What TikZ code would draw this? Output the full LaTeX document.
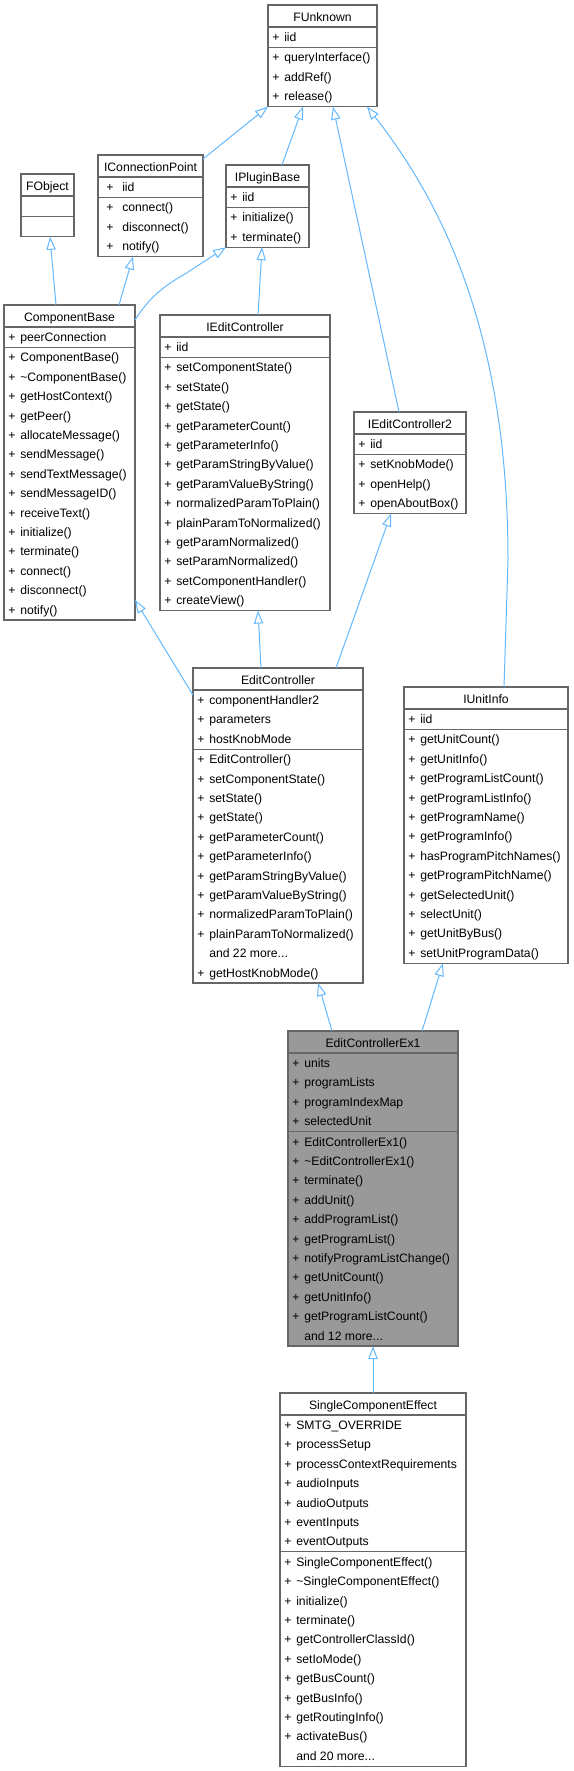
\documentclass[tikz,border=0pt]{standalone}
\usepackage{fontspec}
\setmainfont{Liberation Sans}
\usetikzlibrary{arrows.meta,calc,fit}

\definecolor{boxgray}{HTML}{666666}
\definecolor{edgeblue}{HTML}{63B8FF}
\definecolor{curfill}{HTML}{999999}

\newcommand{\rowh}{19.4}
\newcommand{\signx}{8}
\newcommand{\memx}{16}
\newcommand{\moredots}{...}

% \umlclass[extra]{name}{x}{y}{width}{#attrs}{#methods}{title}
\newcommand{\umlclass}[8][]{%
  \pgfmathsetmacro{\attrh}{#6*\rowh+1}%
  \pgfmathsetmacro{\boxh}{22+\attrh+#7*\rowh+1}%
  \coordinate (#2-nw) at (#3,#4);
  \coordinate (#2-se) at ($(#2-nw)+(#5,\boxh)$);
  \node[classbox,fit=(#2-nw)(#2-se),#1] (#2) {};
  \node[classtitle] (#2-title) at ($(#2-nw)+({#5/2},16.5)$) {#8};
  \draw[classline] ($(#2-nw)+(0,22)$) -- ++(#5,0);
  \draw[classline] ($(#2-nw)+(0,{22+\attrh})$) -- ++(#5,0);
}
% \umlrows{name}{tag}{section top}{sign/text list}
\newcommand{\umlrows}[4]{%
  \foreach \sg/\mb [count=\i] in {#4} {
    \node[memsign] (#1-#2s\i) at ($(#1-nw)+(\signx,{#3+\rowh*(\i-1)+14.5})$) {\sg};
    \node[member] (#1-#2\i) at ($(#1-nw)+(\memx,{#3+\rowh*(\i-1)+14.5})$) {\mb};
  }}

\begin{document}
\begin{tikzpicture}[x=0.75pt,y=0.75pt,yscale=-1,xscale=1,
  classbox/.style={draw=boxgray,line width=1pt,fill=white,inner sep=0pt,outer sep=0pt},
  classline/.style={draw=boxgray,line width=1pt},
  classtitle/.style={anchor=base,inner sep=0pt,font=\fontsize{9.15pt}{11pt}\selectfont},
  memsign/.style={anchor=base,inner sep=0pt,font=\fontsize{9.15pt}{11pt}\selectfont},
  member/.style={anchor=base west,inner sep=0pt,font=\fontsize{9.15pt}{11pt}\selectfont},
  inherit/.style={draw=edgeblue,line width=0.75pt,-{Triangle[open,length=9.75pt,width=7pt,fill=white]}}]
\useasboundingbox (0,0) rectangle (574,1771);

% classes
\umlclass{fu}{268}{5}{109}{1}{3}{FUnknown}
\umlrows{fu}{a}{22}{+/iid}
\umlrows{fu}{m}{22+1*\rowh+1}{+/queryInterface(), +/addRef(), +/release()}

\umlclass{icp}{98}{155}{105}{1}{3}{IConnectionPoint}
\begin{scope}
\renewcommand{\signx}{12}\renewcommand{\memx}{24}
\umlrows{icp}{a}{22}{+/iid}
\umlrows{icp}{m}{22+1*\rowh+1}{+/connect(), +/disconnect(), +/notify()}
\end{scope}

\umlclass{fo}{21}{174}{53}{1}{1}{FObject}

\umlclass{ipb}{226}{165}{83}{1}{2}{IPluginBase}
\umlrows{ipb}{a}{22}{+/iid}
\umlrows{ipb}{m}{22+1*\rowh+1}{+/initialize(), +/terminate()}

\umlclass{cb}{4}{305}{131}{1}{14}{ComponentBase}
\umlrows{cb}{a}{22}{+/peerConnection}
\umlrows{cb}{m}{22+1*\rowh+1}{+/ComponentBase(), +/\textasciitilde ComponentBase(),
  +/getHostContext(), +/getPeer(), +/allocateMessage(), +/sendMessage(),
  +/sendTextMessage(), +/sendMessageID(), +/receiveText(), +/initialize(),
  +/terminate(), +/connect(), +/disconnect(), +/notify()}

\umlclass{iec}{160}{315}{170}{1}{13}{IEditController}
\umlrows{iec}{a}{22}{+/iid}
\umlrows{iec}{m}{22+1*\rowh+1}{+/setComponentState(), +/setState(), +/getState(),
  +/getParameterCount(), +/getParameterInfo(), +/getParamStringByValue(),
  +/getParamValueByString(), +/normalizedParamToPlain(), +/plainParamToNormalized(),
  +/getParamNormalized(), +/setParamNormalized(), +/setComponentHandler(), +/createView()}

\umlclass{iec2}{354}{412}{112}{1}{3}{IEditController2}
\umlrows{iec2}{a}{22}{+/iid}
\umlrows{iec2}{m}{22+1*\rowh+1}{+/setKnobMode(), +/openHelp(), +/openAboutBox()}

\umlclass{ec}{193}{668}{170}{3}{12}{EditController}
\umlrows{ec}{a}{22}{+/componentHandler2, +/parameters, +/hostKnobMode}
\umlrows{ec}{m}{22+3*\rowh+1}{+/EditController(), +/setComponentState(), +/setState(),
  +/getState(), +/getParameterCount(), +/getParameterInfo(), +/getParamStringByValue(),
  +/getParamValueByString(), +/normalizedParamToPlain(), +/plainParamToNormalized(),
  {}/and 22 more\moredots, +/getHostKnobMode()}

\umlclass{ui}{404}{687}{164}{1}{12}{IUnitInfo}
\umlrows{ui}{a}{22}{+/iid}
\umlrows{ui}{m}{22+1*\rowh+1}{+/getUnitCount(), +/getUnitInfo(), +/getProgramListCount(),
  +/getProgramListInfo(), +/getProgramName(), +/getProgramInfo(),
  +/hasProgramPitchNames(), +/getProgramPitchName(), +/getSelectedUnit(),
  +/selectUnit(), +/getUnitByBus(), +/setUnitProgramData()}

\umlclass[fill=curfill]{ecx}{288}{1031}{170}{4}{11}{EditControllerEx1}
\umlrows{ecx}{a}{22}{+/units, +/programLists, +/programIndexMap, +/selectedUnit}
\umlrows{ecx}{m}{22+4*\rowh+1}{+/EditControllerEx1(), +/\textasciitilde EditControllerEx1(),
  +/terminate(), +/addUnit(), +/addProgramList(), +/getProgramList(),
  +/notifyProgramListChange(), +/getUnitCount(), +/getUnitInfo(),
  +/getProgramListCount(), {}/and 12 more\moredots}

\umlclass{sce}{280}{1393}{186}{7}{11}{SingleComponentEffect}
\umlrows{sce}{a}{22}{+/SMTG\_OVERRIDE, +/processSetup, +/processContextRequirements,
  +/audioInputs, +/audioOutputs, +/eventInputs, +/eventOutputs}
\umlrows{sce}{m}{22+7*\rowh+1}{+/SingleComponentEffect(), +/\textasciitilde SingleComponentEffect(),
  +/initialize(), +/terminate(), +/getControllerClassId(), +/setIoMode(),
  +/getBusCount(), +/getBusInfo(), +/getRoutingInfo(), +/activateBus(),
  {}/and 20 more\moredots}

% inheritance
\draw[inherit] ($(icp.north east)+(0,4)$) -- (fu.south west);
\draw[inherit] ($(ipb.north)+(14.5,0)$) -- ($(fu.south)+(-19.5,0)$);
\draw[inherit] ($(iec2.north)+(-11,0)$) -- ($(fu.south)+(10.5,0)$);
\draw[inherit] ($(ui.north)+(18,0)$) -- (508,560) .. controls (508,330) and (440,200) .. ($(fu.south)+(44.5,0)$);
\draw[inherit] ($(cb.north)+(-13.5,0)$) -- ($(fo.south)+(2.5,0)$);
\draw[inherit] ($(cb.north)+(49.5,0)$) -- ($(icp.south)+(-17.5,0)$);
\draw[inherit] ($(cb.north east)+(0,15)$) .. controls (148,300) and (160,288) .. (185,274) -- (ipb.south west);
\draw[inherit] ($(iec.north)+(13,0)$) -- ($(ipb.south)+(-5.5,0)$);
\draw[inherit] ($(ec.north west)+(0,27)$) -- ($(cb.south east)+(0,-20)$);
\draw[inherit] ($(ec.north)+(-17,0)$) -- ($(iec.south)+(13,0)$);
\draw[inherit] ($(ec.north)+(58,0)$) -- ($(iec2.south)+(-19,0)$);
\draw[inherit] ($(ecx.north)+(-41,0)$) -- ($(ec.south)+(40,0)$);
\draw[inherit] ($(ecx.north)+(49,0)$) -- ($(ui.south)+(-43,0)$);
\draw[inherit] (sce.north) -- (ecx.south);

\end{tikzpicture}
\end{document}
